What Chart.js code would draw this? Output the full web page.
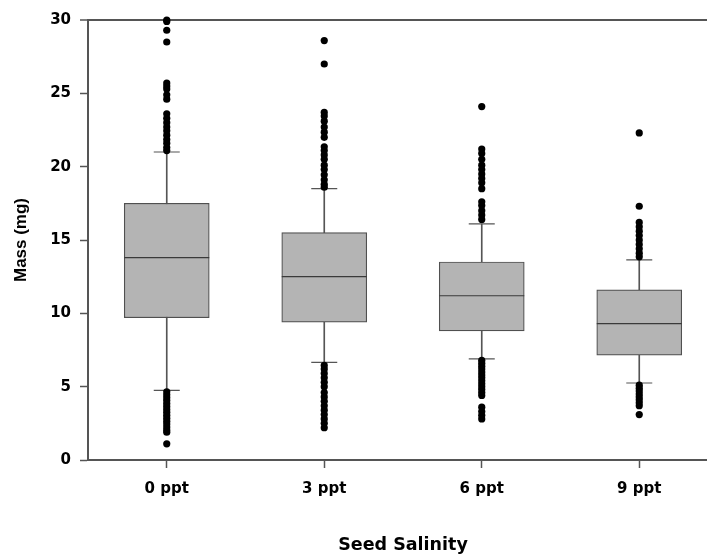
<!DOCTYPE html>
<html>
<head>
<meta charset="utf-8">
<script src="https://cdn.jsdelivr.net/npm/chart.js@4/dist/chart.umd.min.js"></script>
<style>
  html, body { margin: 0; padding: 0; background: #fff; overflow: hidden; }
  #wrap { position: absolute; left: 0; top: 0; width: 718px; height: 558px; }
</style>
</head>
<body>
<div id="wrap"><canvas id="c"></canvas></div>
<script>
// ---- data ----
const categories = ['0 ppt', '3 ppt', '6 ppt', '9 ppt'];
const q1 = [9.7, 9.4, 8.8, 7.15];
const median = [13.8, 12.5, 11.2, 9.3];
const q3 = [17.5, 15.5, 13.5, 11.6];
const whiskerLow = [4.75, 6.65, 6.9, 5.25];
const whiskerHigh = [21.0, 18.5, 16.1, 13.65];
const outliers0 = [30.0, 29.9, 29.3, 28.5, 25.7, 25.5, 25.3, 24.9, 24.6, 23.6, 23.3, 23.0, 22.7, 22.45, 22.15, 21.85, 21.6, 21.3, 21.1,
                   4.65, 4.45, 4.25, 4.05, 3.85, 3.65, 3.45, 3.25, 3.05, 2.85, 2.65, 2.45, 2.25, 2.05, 1.9, 1.1];
const outliers3 = [28.6, 27.0, 23.7, 23.45, 23.1, 22.7, 22.35, 22.0, 21.35, 21.1, 20.8, 20.5, 20.1, 19.8, 19.45, 19.1, 18.8, 18.6,
                   6.45, 6.2, 5.9, 5.6, 5.3, 5.0, 4.6, 4.3, 4.0, 3.7, 3.4, 3.1, 2.8, 2.5, 2.2];
const outliers6 = [24.1, 21.2, 20.9, 20.5, 20.1, 19.8, 19.5, 19.2, 18.9, 18.5, 17.6, 17.35, 17.0, 16.7, 16.4,
                   6.8, 6.6, 6.4, 6.2, 6.0, 5.8, 5.6, 5.4, 5.2, 5.0, 4.8, 4.6, 4.4, 3.6, 3.3, 3.05, 2.8];
const outliers9 = [22.3, 17.3, 16.2, 15.9, 15.6, 15.3, 15.0, 14.7, 14.4, 14.1, 13.85,
                   5.1, 4.9, 4.7, 4.5, 4.3, 4.1, 3.9, 3.7, 3.1];
const yTicks = [0, 5, 10, 15, 20, 25, 30];
const xTitle = 'Seed Salinity';
const yTitle = 'Mass (mg)';

// ---- build datasets ----
const outlierSets = [outliers0, outliers3, outliers6, outliers9];
const outlierPoints = [];
outlierSets.forEach((arr, i) => arr.forEach(v => outlierPoints.push({ x: categories[i], y: v })));
const medianPoints = categories.map((c, i) => ({ x: c, y: median[i] }));
const capPoints = [];
categories.forEach((c, i) => { capPoints.push({ x: c, y: whiskerLow[i] }); capPoints.push({ x: c, y: whiskerHigh[i] }); });

const axisColor = '#555555';
const tickFont = { family: 'DejaVu Sans', weight: 'bold', size: 15 };
const yMax = yTicks[yTicks.length - 1];

new Chart(document.getElementById('c'), {
  type: 'bar',
  data: {
    labels: categories,
    datasets: [
      {
        type: 'bar',
        label: 'whisker',
        data: categories.map((c, i) => [whiskerLow[i], whiskerHigh[i]]),
        backgroundColor: '#555555',
        borderWidth: 0,
        barThickness: 1,
        grouped: false,
        order: 3
      },
      {
        type: 'bar',
        label: 'box',
        data: categories.map((c, i) => [q1[i], q3[i]]),
        backgroundColor: '#b4b4b4',
        borderColor: '#505050',
        borderWidth: 1.2,
        borderSkipped: false,
        barThickness: 85,
        grouped: false,
        order: 2
      },
      {
        type: 'scatter',
        label: 'median',
        data: medianPoints,
        pointStyle: 'line',
        radius: 42.5,
        borderColor: '#3a3a3a',
        borderWidth: 1.2,
        order: 1
      },
      {
        type: 'scatter',
        label: 'caps',
        data: capPoints,
        pointStyle: 'line',
        radius: 13,
        borderColor: '#555555',
        borderWidth: 1.2,
        order: 1
      },
      {
        type: 'scatter',
        label: 'outliers',
        data: outlierPoints,
        pointStyle: 'circle',
        radius: 3.6,
        backgroundColor: '#000000',
        borderWidth: 0,
        clip: false,
        order: 0
      }
    ]
  },
  options: {
    responsive: true,
    maintainAspectRatio: false,
    animation: false,
    layout: { autoPadding: false, padding: { top: 20, left: 0, right: 0, bottom: 0 } },
    plugins: { legend: { display: false }, tooltip: { enabled: false } },
    scales: {
      x: {
        type: 'category',
        position: 'bottom',
        offset: true,
        grid: { drawOnChartArea: false, drawTicks: true, tickLength: 8, offset: false, color: axisColor, tickColor: axisColor, tickWidth: 1.5 },
        border: { display: true, color: axisColor, width: 2 },
        ticks: { font: tickFont, color: '#000', padding: 12, maxRotation: 0 },
        title: { display: true, text: xTitle, color: '#000', font: { family: 'DejaVu Sans', weight: 'bold', size: 17.5 }, padding: { top: 0, bottom: 2 } },
        afterFit: s => { s.height = 98; s.paddingLeft = 0; s.paddingRight = 0; }
      },
      y: {
        type: 'linear',
        min: 0,
        max: yMax,
        afterBuildTicks: s => { s.ticks = yTicks.map(v => ({ value: v })); },
        grid: {
          drawOnChartArea: true,
          drawTicks: true,
          tickLength: 8,
          color: ctx => (ctx.tick && ctx.tick.value === yMax) ? axisColor : 'rgba(0,0,0,0)',
          lineWidth: ctx => (ctx.tick && ctx.tick.value === yMax) ? 2 : 1,
          tickColor: axisColor,
          tickWidth: 1.5
        },
        border: { display: true, color: axisColor, width: 2 },
        ticks: { font: tickFont, color: '#000', padding: 9 },
        title: { display: true, text: yTitle, color: '#000', font: { family: 'Liberation Sans', weight: 'bold', size: 17 }, padding: { top: 11, bottom: 0 } },
        afterFit: s => { s.width = 88; }
      }
    }
  }
});
</script>
</body>
</html>
